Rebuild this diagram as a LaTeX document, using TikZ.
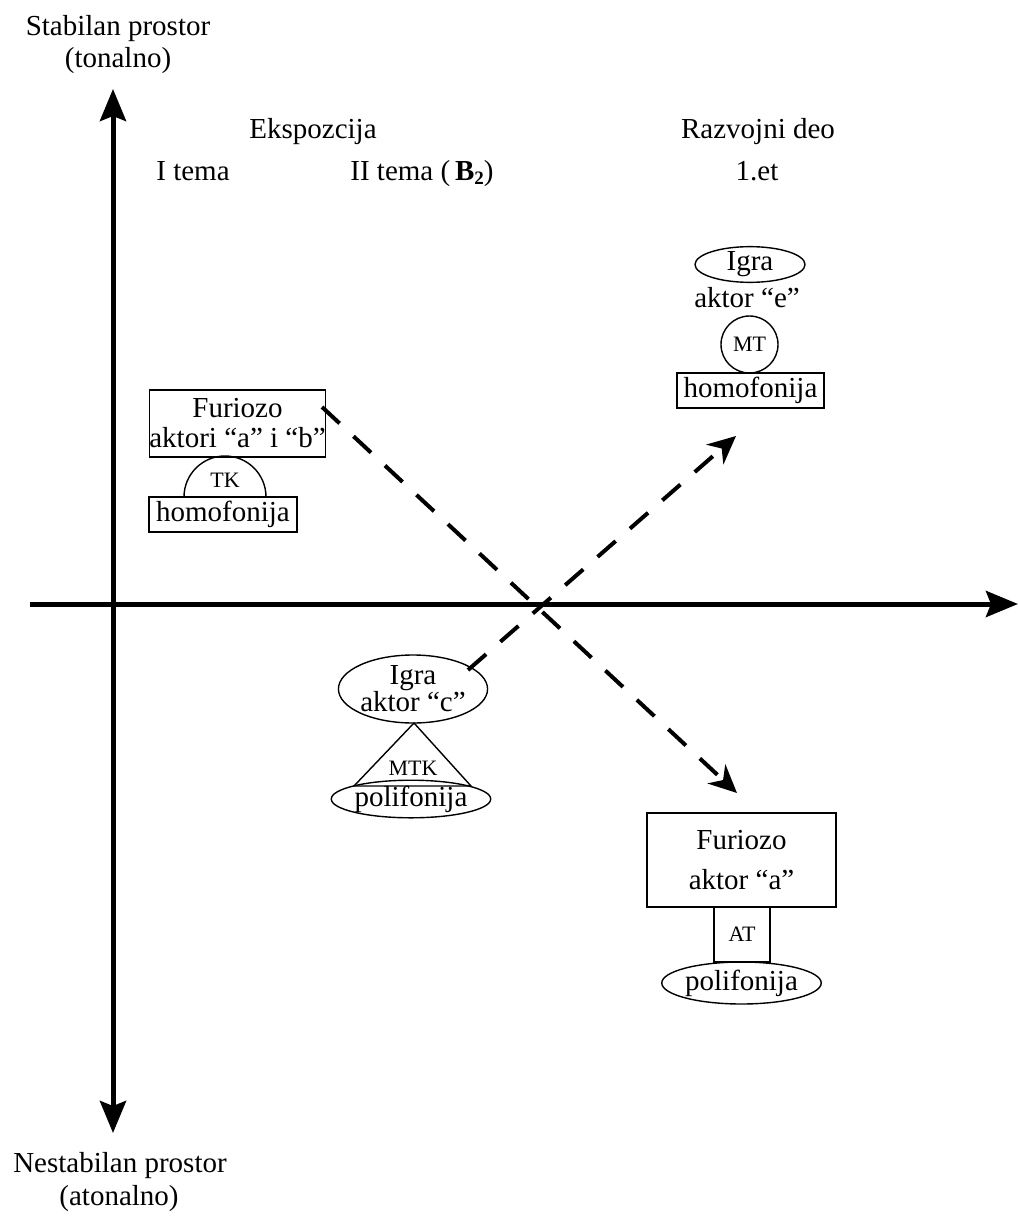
\documentclass[tikz,border=0pt]{standalone}
\usepackage{fontspec}
\setmainfont{Liberation Serif}
\usetikzlibrary{arrows.meta,shapes.geometric}
\tikzset{bighead/.tip={Stealth[length=32pt,width=26pt,inset=5pt]},
         dashhead/.tip={Stealth[length=28pt,width=26pt,inset=9pt]}}
\begin{document}
\begin{tikzpicture}[x=1pt,y=-1pt,
  lbl/.style={font=\fontsize{29}{31}\selectfont, inner sep=0pt, align=center},
  sml/.style={font=\fontsize{22}{24}\selectfont, inner sep=0pt},
  boxn/.style={draw, line width=1.4pt, inner sep=0pt, align=center, font=\fontsize{29}{30}\selectfont},
  elln/.style={draw, ellipse, line width=1.4pt, inner sep=0pt, align=center, font=\fontsize{29}{27}\selectfont},
  shp/.style={draw, line width=1.4pt},
  axisline/.style={line width=5pt},
  dasharrow/.style={line width=4pt, dash pattern=on 24pt off 19pt, -dashhead}
]
\useasboundingbox (0,0) rectangle (1018,1218);

% axes
\coordinate (vtop) at (113,89);
\coordinate (vbot) at (113,1133);
\coordinate (hleft) at (30,604);
\coordinate (hright) at (1018,604);
\draw[axisline, bighead-bighead] (vbot) -- (vtop);
\draw[axisline, -bighead] (hleft) -- (hright);

% axis labels
\node[lbl, anchor=base] (stab) at (118,35) {Stabilan prostor};
\node[lbl, anchor=base] (ton) at (118,67) {(tonalno)};
\node[lbl, anchor=base] (nestab) at (120,1172) {Nestabilan prostor};
\node[lbl, anchor=base] (aton) at (119,1205) {(atonalno)};

% headings
\node[lbl, anchor=base] (eksp) at (313,138) {Ekspozcija};
\node[lbl, anchor=base] (tema1) at (193,180) {I tema};
\node[lbl, anchor=base] (tema2) at (422,180) {II tema (\,\textbf{B}\raisebox{-0.35ex}{\fontsize{19}{20}\selectfont\textbf{2}})};
\node[lbl, anchor=base] (razv) at (758,138) {Razvojni deo};
\node[lbl, anchor=base] (et) at (757,180) {1.et};

% left group (I tema)
\node[boxn, minimum width=161pt, minimum height=67pt] (fur1) at (237.5,423.5) {Furiozo\\aktori “a” i “b”};
\draw[shp] (184,497) arc[start angle=180, end angle=360, radius=41];
\node[sml] (tk) at (225,480) {TK};
\node[boxn, minimum width=148pt, minimum height=35pt] (hom1) at (223,514.5) {homofonija};

% top right group
\node[elln, minimum width=110pt, minimum height=35pt] (igre) at (750,264.5) {Igra};
\node[lbl, anchor=base] (akte) at (747,307) {aktor “e”};
\node[shp, circle, minimum size=57pt, inner sep=0pt, font=\fontsize{22}{24}\selectfont] (mt) at (749.5,344.5) {MT};
\node[boxn, minimum width=147pt, minimum height=35pt] (hom2) at (750.5,390.5) {homofonija};

% middle group
\node[elln, minimum width=132pt, minimum height=68pt] (igc) at (413,689) {Igra\\aktor “c”};
\draw[shp] (414,723) -- (471,786) -- (354,786) -- cycle;
\node[sml] (mtk) at (413,768) {MTK};
\node[elln, minimum width=133pt, minimum height=30pt] (pol1) at (411,799) {polifonija};

% bottom right group
\node[boxn, minimum width=189pt, minimum height=94pt, font=\fontsize{29}{40}\selectfont] (fur2) at (741.5,860) {Furiozo\\aktor “a”};
\node[boxn, minimum width=56pt, minimum height=55pt, font=\fontsize{22}{24}\selectfont] (at) at (742,934.5) {AT};
\node[elln, minimum width=133pt, minimum height=42pt] (pol2) at (741.5,983) {polifonija};

% dashed arrows
\coordinate (s1) at (322,407);
\coordinate (t1) at (737,793);
\coordinate (s2) at (468,670);
\coordinate (t2) at (736,436);
\draw[dasharrow] (s1) -- (t1);
\draw[dasharrow] (s2) -- (t2);
\end{tikzpicture}
\end{document}
